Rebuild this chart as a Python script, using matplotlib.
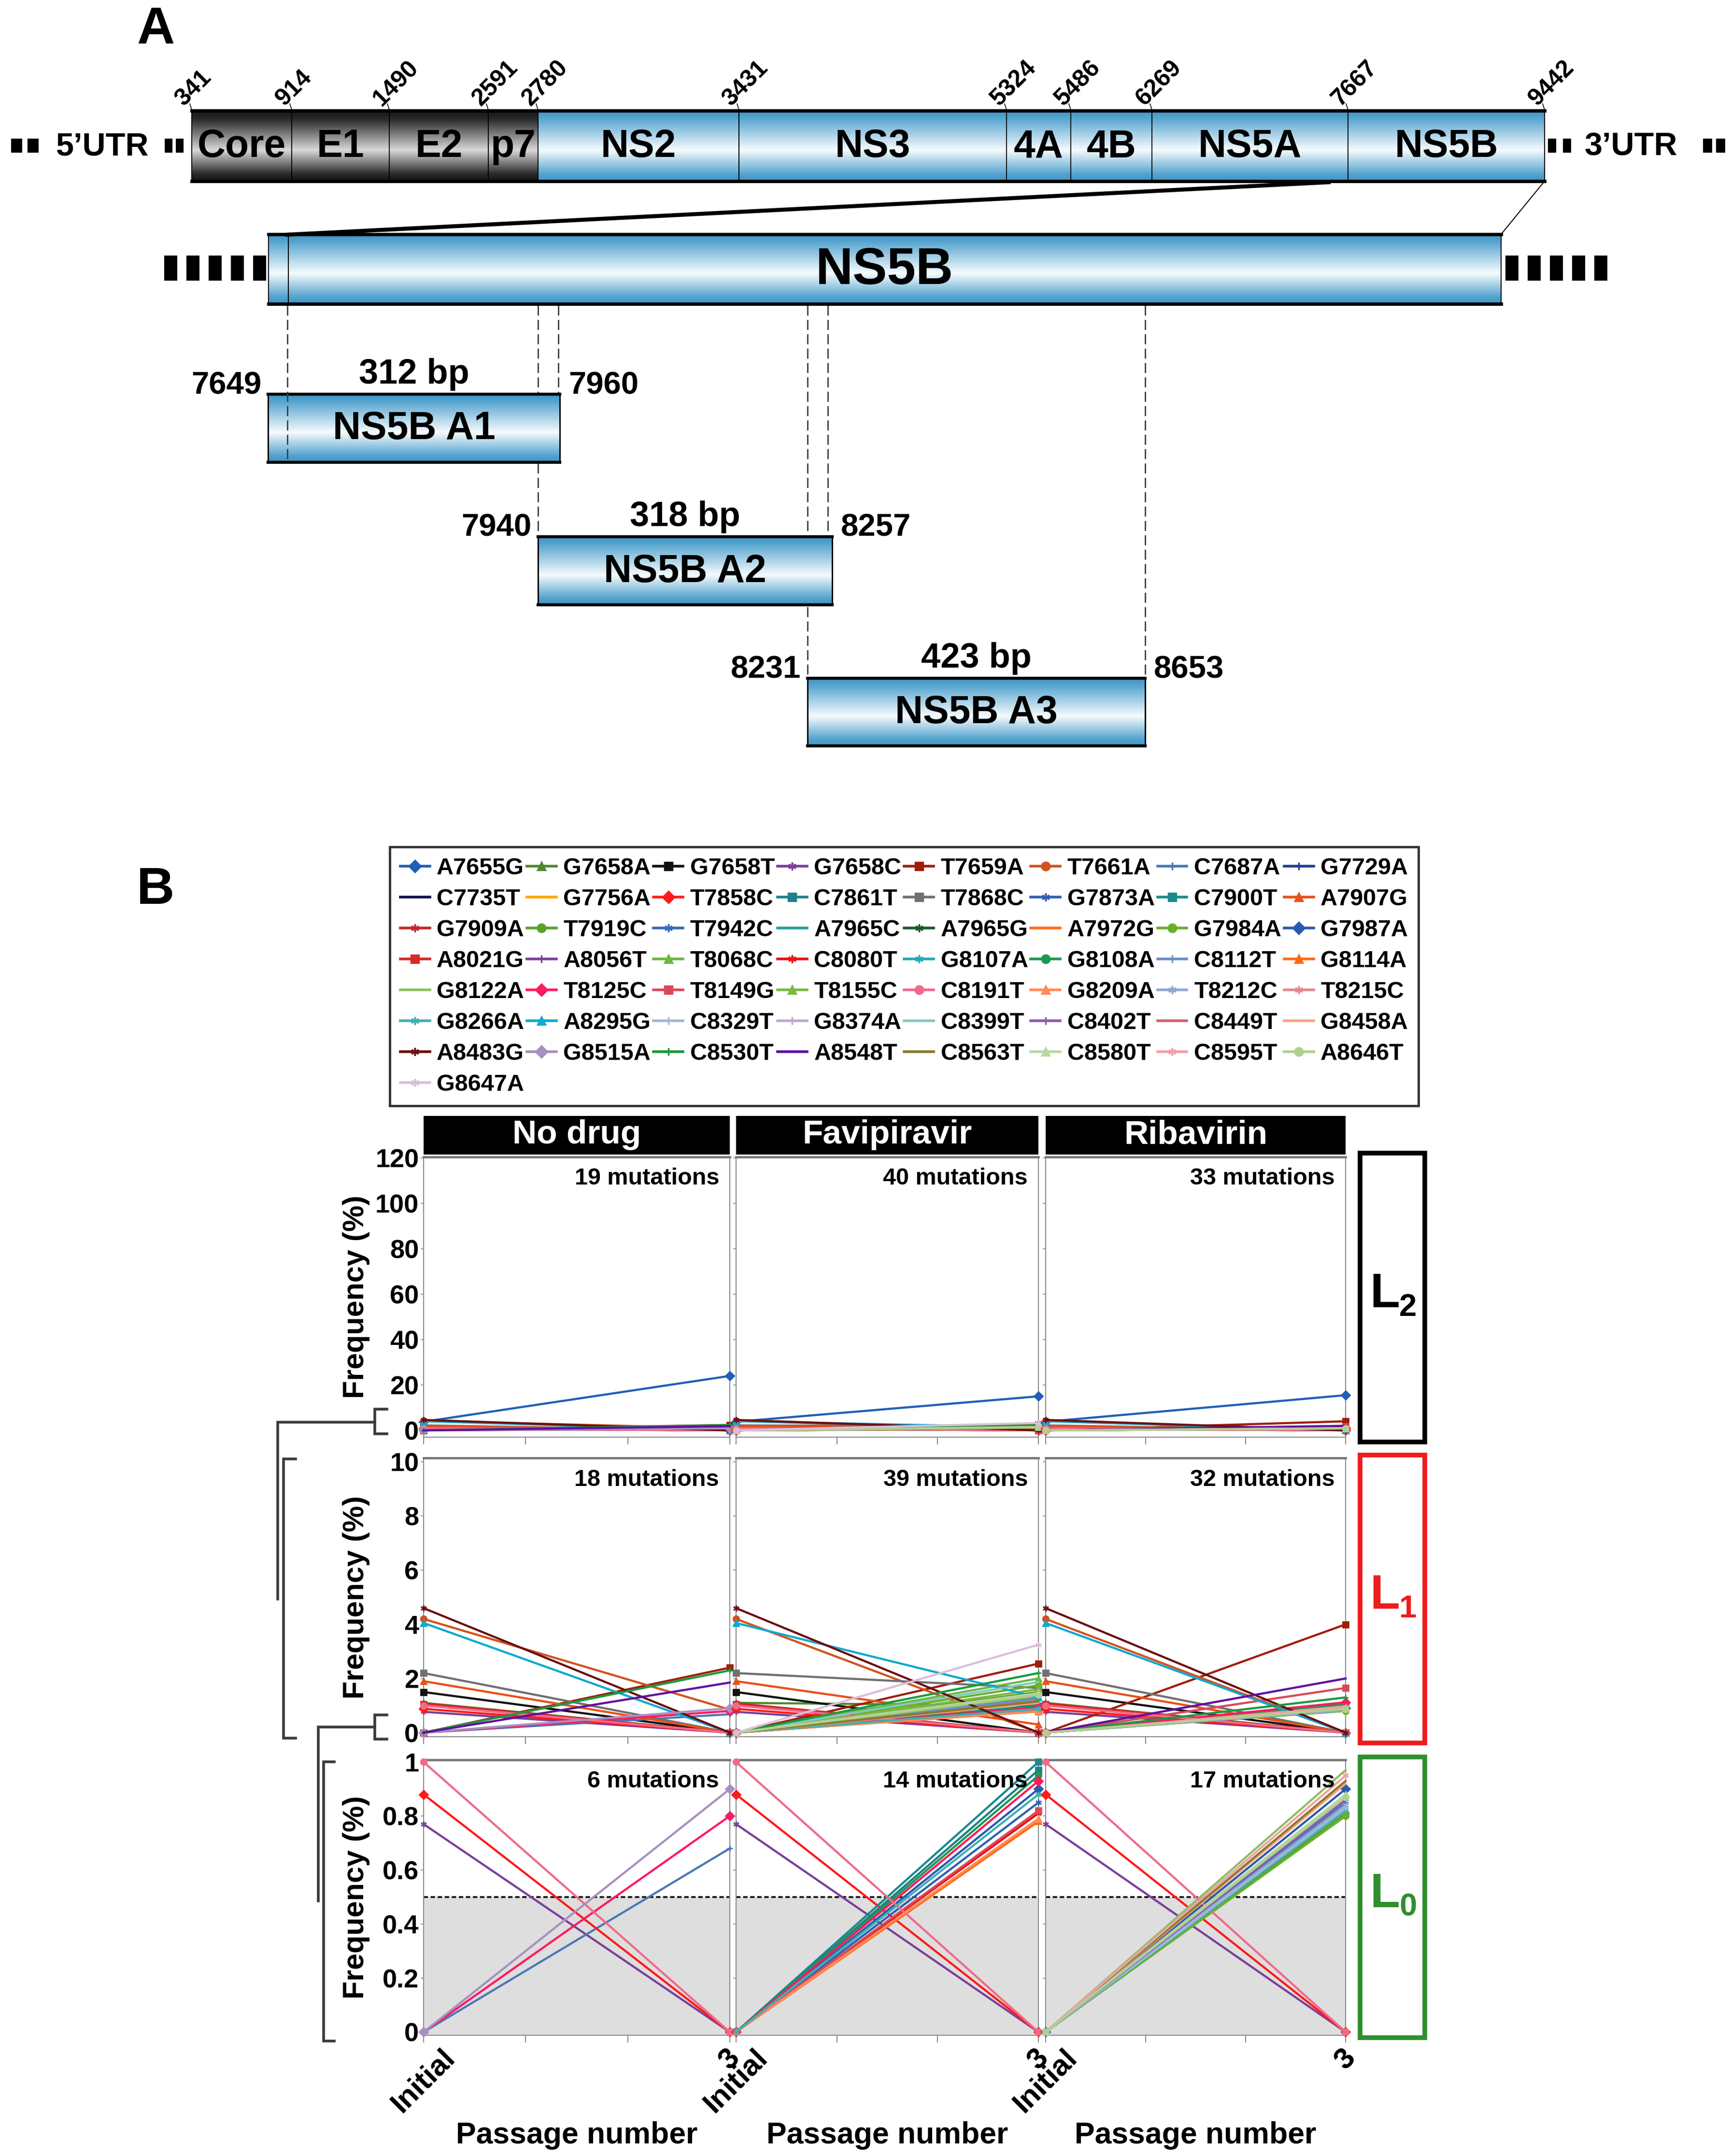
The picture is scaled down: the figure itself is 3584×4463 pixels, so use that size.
import numpy as np
import matplotlib
matplotlib.use('Agg')
import matplotlib.pyplot as plt
from matplotlib.patches import Rectangle
from matplotlib.lines import Line2D
from matplotlib.colors import LinearSegmentedColormap

# ---------------------------------------------------------------- data
# Panel A: genome schematic
region_names = ['Core', 'E1', 'E2', 'p7', 'NS2', 'NS3', '4A', '4B', 'NS5A', 'NS5B']
boundary_nt = [341, 914, 1490, 2591, 2780, 3431, 5324, 5486, 6269, 7667, 9442]
amplicon_names = ['NS5B A1', 'NS5B A2', 'NS5B A3']
amplicon_start = [7649, 7940, 8231]
amplicon_end = [7960, 8257, 8653]
amplicon_bp = ['312 bp', '318 bp', '423 bp']

# Panel B: mutations (legend order)
mutations = ['A7655G', 'G7658A', 'G7658T', 'G7658C', 'T7659A', 'T7661A', 'C7687A', 'G7729A',
             'C7735T', 'G7756A', 'T7858C', 'C7861T', 'T7868C', 'G7873A', 'C7900T', 'A7907G',
             'G7909A', 'T7919C', 'T7942C', 'A7965C', 'A7965G', 'A7972G', 'G7984A', 'G7987A',
             'A8021G', 'A8056T', 'T8068C', 'C8080T', 'G8107A', 'G8108A', 'C8112T', 'G8114A',
             'G8122A', 'T8125C', 'T8149G', 'T8155C', 'C8191T', 'G8209A', 'T8212C', 'T8215C',
             'G8266A', 'A8295G', 'C8329T', 'G8374A', 'C8399T', 'C8402T', 'C8449T', 'G8458A',
             'A8483G', 'G8515A', 'C8530T', 'A8548T', 'C8563T', 'C8580T', 'C8595T', 'A8646T',
             'G8647A']

treatments = ['No drug', 'Favipiravir', 'Ribavirin']
passage_labels = ['Initial', '', '', '3']

nodrug_names = ['A7655G', 'A8483G', 'T7661A', 'A8295G', 'T7868C', 'A7907G', 'G7658T', 'G7658A',
                'A8021G', 'G7909A', 'C8191T', 'T7858C', 'G7658C', 'T7659A', 'C8530T', 'A8548T',
                'G8515A', 'T8125C', 'C7687A']
nodrug_initial = [3.8, 4.6, 4.2, 4.05, 2.2, 1.9, 1.5, 1.1, 1.05, 1.08, 1.0, 0.88, 0.77,
                  0, 0, 0, 0, 0, 0]
nodrug_p3 = [24.0, 0, 0.85, 0, 0, 0, 0, 0, 0, 0, 0, 0, 0,
             2.4, 2.3, 1.85, 0.9, 0.8, 0.68]

favi_names = ['A7655G', 'A8483G', 'T7661A', 'A8295G', 'T7868C', 'A7907G', 'G7658T', 'G7658A',
              'A8021G', 'G7909A', 'C8191T', 'T7858C', 'G7658C',
              'T7659A', 'C8530T', 'G8647A', 'C8399T', 'T8155C', 'T8068C', 'G7984A', 'T7919C',
              'C8580T', 'A8646T', 'G8122A', 'C7687A', 'C8112T', 'A7972G', 'C8563T', 'G8458A',
              'C7900T', 'C7861T', 'G8108A', 'T8125C', 'G7987A', 'G8266A', 'G7873A', 'T8149G',
              'C8080T', 'G8209A', 'G8114A']
favi_initial = [3.8, 4.6, 4.2, 4.05, 2.2, 1.9, 1.5, 1.1, 1.05, 1.08, 1.0, 0.88, 0.77,
                0, 0, 0, 0, 0, 0, 0, 0, 0, 0, 0, 0, 0, 0, 0, 0,
                0, 0, 0, 0, 0, 0, 0, 0, 0, 0, 0]
favi_p3 = [15.0, 0, 0, 1.3, 1.65, 0.3, 0, 1.0, 0, 0, 0, 0, 0,
           2.55, 2.2, 3.25, 1.87, 1.6, 2.0, 1.75, 1.5, 1.45, 1.4, 1.35, 1.3, 1.25, 1.2, 1.15, 1.1,
           1.0, 0.97, 0.95, 0.93, 0.9, 0.88, 0.85, 0.82, 0.81, 0.79, 0.78]

riba_names = ['A7655G', 'A8483G', 'T7661A', 'A8295G', 'T7868C', 'A7907G', 'G7658T', 'G7658A',
              'A8021G', 'G7909A', 'C8191T', 'T7858C', 'G7658C',
              'T7659A', 'A8548T', 'T8149G', 'C8530T', 'T8125C', 'G8108A',
              'G8122A', 'C8595T', 'C8563T', 'G8458A', 'G7987A', 'C8580T', 'A8646T', 'C8402T',
              'C7687A', 'T8212C', 'C8329T', 'G8266A', 'T7919C', 'G7984A']
riba_initial = [3.8, 4.6, 4.2, 4.05, 2.2, 1.9, 1.5, 1.1, 1.05, 1.08, 1.0, 0.88, 0.77,
                0, 0, 0, 0, 0, 0,
                0, 0, 0, 0, 0, 0, 0, 0, 0, 0, 0, 0, 0, 0]
riba_p3 = [15.5, 0, 0, 0, 0, 0, 0, 0, 0, 0, 0, 0, 0,
           4.0, 2.0, 1.65, 1.3, 1.12, 1.05,
           0.97, 0.95, 0.93, 0.92, 0.9, 0.88, 0.87, 0.86, 0.85, 0.84, 0.83, 0.82, 0.81, 0.80]

level_names = ['2', '1', '0']
level_max = [np.inf, 10, 1]

# ---------------------------------------------------------------- styles
mut_colors = ['#1f5fb8', '#4e8a2a', '#111111', '#7a3f9a', '#a01e0a', '#d2521e', '#4a78b8', '#1f3f8f',
              '#10104a', '#ffa500', '#ff1a1a', '#1f7f8a', '#707070', '#3060b0', '#1a8a8a', '#e8501a',
              '#c0282a', '#5aa02c', '#3a6ab8', '#2a9a9a', '#1a5a2a', '#ff6a20', '#6ab02a', '#2a5ab0',
              '#d82828', '#8040a0', '#6ab840', '#ee1111', '#2aa8b0', '#1a9a50', '#6a90c8', '#ff6a10',
              '#8cc060', '#ff1a60', '#d84a5a', '#7ab840', '#f06a8a', '#ff8a5a', '#90a8d0', '#e08890',
              '#40b0b0', '#10a8d0', '#a0b8d8', '#c0a8d0', '#80c8c0', '#8a5ab0', '#d86070', '#ffa080',
              '#6a0f10', '#a890c0', '#1a9a40', '#6010a0', '#8a7a2a', '#b8d8a0', '#f0a0a8', '#b0d090',
              '#d8c0d8']
mut_marks = ['D', '^', 's', '*', 's', 'o', '+', '+',
             '', '', 'D', 's', 's', '*', 's', '^',
             '*', 'o', '*', '', '*', '', 'o', 'D',
             's', '+', '^', '*', '*', 'o', '+', '^',
             '', 'D', 's', '^', 'o', '^', '*', '*',
             '*', '^', '+', '+', '', '+', '', '',
             '*', 'D', '+', '', '', '^', '*', 'o',
             '*']
marker_map = {'D': 'D', '^': '^', 's': 's', 'o': 'o', '+': '+', '*': (6, 2, 0), '': None}

W, H = 3584, 4463
DPI = 100
plt.rcParams['font.family'] = ['Liberation Sans', 'DejaVu Sans']
plt.rcParams['font.weight'] = 'bold'
plt.rcParams['axes.labelweight'] = 'bold'

fig = plt.figure(figsize=(W / DPI, H / DPI), dpi=DPI)
ov = fig.add_axes([0, 0, 1, 1])
ov.axis('off')

grad = np.linspace(0, 1, 256).reshape(-1, 1)
blue_cmap = LinearSegmentedColormap.from_list(
    'b', [(0, '#3f93c3'), (0.1, '#55a4cf'), (0.56, '#f6fbfd'), (0.9, '#55a4cf'), (1, '#3f93c3')])
gray_cmap = LinearSegmentedColormap.from_list(
    'g', [(0, '#151515'), (0.12, '#2a2a2a'), (0.56, '#d8d8d8'), (0.9, '#2a2a2a'), (1, '#151515')])


def grad_rect(x0, x1, y0, y1, cmap):
    ov.imshow(grad, cmap=cmap, extent=(x0, x1, y1, y0), aspect='auto',
              interpolation='bilinear', zorder=2)


def border(x0, x1, y0, y1, lw_tb=5.0, lw_side=1.5):
    ov.plot([x0, x1], [y0, y0], color='black', lw=lw_tb, solid_capstyle='projecting', zorder=4)
    ov.plot([x0, x1], [y1, y1], color='black', lw=lw_tb, solid_capstyle='projecting', zorder=4)
    ov.plot([x0, x0], [y0, y1], color='black', lw=lw_side, zorder=4)
    ov.plot([x1, x1], [y0, y1], color='black', lw=lw_side, zorder=4)


# ---------------------------------------------------------------- Panel A
ov.text(322, 62, 'A', fontsize=78, fontweight='bold', ha='center', va='center')
ov.text(322, 1843, 'B', fontsize=78, fontweight='bold', ha='center', va='center')

# schematic layout (pixel positions of the drawn boundaries)
bx = [397, 604, 806, 1011, 1114, 1530, 2084, 2217, 2385, 2791, 3198]
top_y0, top_y1 = 229, 375
grad_rect(bx[0], bx[4], top_y0, top_y1, gray_cmap)
grad_rect(bx[4], bx[-1], top_y0, top_y1, blue_cmap)
border(bx[0], bx[-1], top_y0, top_y1)
for x in bx[1:-1]:
    ov.plot([x, x], [top_y0, top_y1], color='black', lw=1.5, zorder=4)
for i, name in enumerate(region_names):
    ov.text((bx[i] + bx[i + 1]) / 2, (top_y0 + top_y1) / 2 + 2, name, fontsize=58,
            fontweight='bold', ha='center', va='center', zorder=5)
for x, nt in zip(bx, boundary_nt):
    ov.plot([x, x - 4], [top_y0 - 2, top_y0 - 14], color='black', lw=1.2, zorder=4)
    ov.text(x - 16, top_y0 - 8, str(nt), fontsize=36, fontweight='bold', rotation=45,
            rotation_mode='anchor', ha='left', va='baseline', zorder=5)

# UTR text and dashes
utr_y = (top_y0 + top_y1) / 2
ov.text(212, utr_y + 2, '5\u2019UTR', fontsize=48, fontweight='bold', ha='center', va='center')
ov.text(3377, utr_y + 2, '3\u2019UTR', fontsize=48, fontweight='bold', ha='center', va='center')
small_dash = [(23, 23), (57, 23), (341, 16), (364, 16), (3205, 17), (3236, 17), (3526, 19), (3553, 19)]
ov.broken_barh(small_dash, (287, 29), facecolors='black', zorder=3)

# expanded NS5B bar
n5_x0, n5_x1, n5_y0, n5_y1 = 556, 3108, 485, 629
grad_rect(n5_x0, n5_x1, n5_y0, n5_y1, blue_cmap)
border(n5_x0, n5_x1, n5_y0, n5_y1)
ov.plot([597, 597], [n5_y0, n5_y1], color='black', lw=1.5, zorder=4)
ov.text((n5_x0 + n5_x1) / 2, (n5_y0 + n5_y1) / 2 + 3, 'NS5B', fontsize=77, fontweight='bold',
        ha='center', va='center', zorder=5)
big_dash_l = [(340 + 46 * k, 27) for k in range(5)]
big_dash_r = [(3117 + 46 * k, 27) for k in range(5)]
ov.broken_barh(big_dash_l + big_dash_r, (529, 52), facecolors='black', zorder=3)

# zoom connectors
ov.plot([2755, 590], [377, 486], color='black', lw=6, solid_capstyle='butt', zorder=3)
ov.plot([bx[-1], n5_x1], [top_y1, n5_y0], color='black', lw=1.5, zorder=3)

# amplicons
amp_x = [(555, 1159), (1114, 1723), (1672, 2371)]
amp_y = [(816, 957), (1111, 1252), (1404, 1544)]
dash_x = [595, 1114, 1156, 1672, 1714, 2371]
dash_end = [957, 1111, 816, 1404, 1111, 1404]
for x, ye in zip(dash_x, dash_end):
    ov.plot([x, x], [n5_y1 + 3, ye], color='#3a3a3a', lw=2, dashes=(7.5, 3.2),
            zorder=6 if x == 595 else 1)
for i in range(3):
    (x0, x1), (y0, y1) = amp_x[i], amp_y[i]
    grad_rect(x0, x1, y0, y1, blue_cmap)
    border(x0, x1, y0, y1, lw_tb=4.5, lw_side=2.2)
    ov.text((x0 + x1) / 2, (y0 + y1) / 2 + 2, amplicon_names[i], fontsize=58,
            fontweight='bold', ha='center', va='center', zorder=5)
    ov.text((x0 + x1) / 2, y0 - 22, amplicon_bp[i], fontsize=52, fontweight='bold',
            ha='center', va='baseline', zorder=5)
    ov.text(x0 - 14, y0 - 1, str(amplicon_start[i]), fontsize=47, fontweight='bold',
            ha='right', va='baseline', zorder=5)
    ov.text(x1 + 18, y0 - 1, str(amplicon_end[i]), fontsize=47, fontweight='bold',
            ha='left', va='baseline', zorder=5)

# ---------------------------------------------------------------- Panel B
col_x = [(877, 1511), (1524, 2150), (2165, 2786)]
row_y = [(2395, 2975), (3018, 3595), (3643, 4213)]
ylims = [(-3, 120.5), (-0.15, 10.15), (-0.012, 1.008)]
yticks = [np.arange(0, 121, 20), np.arange(0, 11, 2), np.round(np.arange(0, 1.01, 0.2), 1)]
yticklabels = [[str(v) for v in yticks[0]], [str(v) for v in yticks[1]],
               ['0', '0.2', '0.4', '0.6', '0.8', '1']]
spine_c = '#8a8a8a'

drug_data = [(nodrug_names, nodrug_initial, nodrug_p3),
             (favi_names, favi_initial, favi_p3),
             (riba_names, riba_initial, riba_p3)]

for c, (x0, x1) in enumerate(col_x):
    # header
    ov.add_patch(Rectangle((x0, 2310), x1 - x0, 80, facecolor='black', edgecolor='none', zorder=3))
    ov.text((x0 + x1) / 2, 2349, treatments[c], color='white', fontsize=50, fontweight='bold',
            ha='center', va='center', zorder=4)
    names, ini, p3 = drug_data[c]
    order = sorted(range(len(names)), key=lambda k: mutations.index(names[k]))
    for r, (y0, y1) in enumerate(row_y):
        ax = fig.add_axes([x0 / W, 1 - y1 / H, (x1 - x0) / W, (y1 - y0) / H])
        ax.set_xlim(0, 3)
        ax.set_ylim(*ylims[r])
        if r == 2:
            ax.axhspan(ylims[r][0], 0.5, color='#dedede', zorder=0, lw=0)
            ax.axhline(0.5, color='#222222', lw=3, dashes=(2.2, 1.3), zorder=1)
        n_shown = 0
        for k in order:
            if max(ini[k], p3[k]) > level_max[r]:
                continue
            n_shown += 1
            mi = mutations.index(names[k])
            ax.plot([0, 3], [ini[k], p3[k]], color=mut_colors[mi], lw=3.2,
                    marker=marker_map[mut_marks[mi]], ms=9, mew=2, clip_on=False, zorder=3)
        ax.text(1 - 22 / (x1 - x0), 1 - 45 / (y1 - y0), f'{n_shown} mutations',
                transform=ax.transAxes, fontsize=35, fontweight='bold', ha='right', va='center',
                zorder=5)
        for s in ['left', 'right', 'bottom']:
            ax.spines[s].set_color(spine_c)
            ax.spines[s].set_linewidth(1.5)
        ax.spines['top'].set_color('#7a7a7a')
        ax.spines['top'].set_linewidth(3.5)
        ax.set_yticks(yticks[r])
        ax.set_xticks([0, 1, 2, 3])
        ax.tick_params(axis='y', length=4, width=1.2, color=spine_c, pad=3, labelsize=39)
        ax.tick_params(axis='x', length=11, width=1.5, color=spine_c, pad=2, labelsize=44)
        if c == 0:
            ax.set_yticklabels(yticklabels[r], fontweight='bold')
        else:
            ax.set_yticklabels([])
        if r == 2:
            ax.set_xticklabels(passage_labels, rotation=45, ha='center', va='top',
                               fontweight='bold')
        else:
            ax.set_xticklabels([])
    ov.text((x0 + x1) / 2, 4420, 'Passage number', fontsize=45, fontweight='bold',
            ha='center', va='center')

for r, (y0, y1) in enumerate(row_y):
    ov.text(738, (y0 + y1) / 2, 'Frequency (%)', fontsize=44, fontweight='bold', rotation=90,
            ha='center', va='center')

# level boxes
lbox_y = [(2387, 2985), (3012, 3608), (3637, 4218)]
lbox_c = ['black', '#ee1c1c', '#2f8f2f']
for (y0, y1), col, lv in zip(lbox_y, lbox_c, level_names):
    ov.add_patch(Rectangle((2816, y0), 134, y1 - y0, facecolor='white', edgecolor=col, lw=7,
                           zorder=3))
    cy = (y0 + y1) / 2
    ov.text(2836, cy + 20, 'L', color=col, fontsize=73, fontweight='bold', ha='left',
            va='baseline', zorder=4)
    ov.text(2897, cy + 38, lv, color=col, fontsize=47, fontweight='bold', ha='left',
            va='baseline', zorder=4)

# dendrogram-like brackets
bc, blw = '#3a3a3a', 4
def bracket(x, ya, yb, tick):
    ov.plot([x + tick, x, x, x + tick], [ya, ya, yb, yb], color=bc, lw=blw,
            solid_joinstyle='miter', zorder=3)

bracket(776, 2917, 2968, 25)
ov.plot([776, 575, 575], [2944, 2944, 3310], color=bc, lw=blw, solid_joinstyle='miter', zorder=3)
bracket(587, 3020, 3598, 25)
bracket(776, 3550, 3600, 25)
ov.plot([776, 659, 659], [3575, 3575, 3935], color=bc, lw=blw, solid_joinstyle='miter', zorder=3)
bracket(670, 3647, 4225, 22)

# legend (row-major in the figure -> reorder for column-major filling)
handles = []
for name, col, mk in zip(mutations, mut_colors, mut_marks):
    handles.append(Line2D([], [], color=col, lw=4, marker=marker_map[mk], ms=12, mew=2.5))
ncol = 8
nrow = int(np.ceil(len(mutations) / ncol))
h_ord, l_ord = [], []
for cc in range(ncol):
    for rr in range(nrow):
        idx = rr * ncol + cc
        if idx < len(mutations):
            h_ord.append(handles[idx])
            l_ord.append(mutations[idx])
        else:
            h_ord.append(Line2D([], [], lw=0, marker=None))
            l_ord.append('')
leg = fig.legend(h_ord, l_ord, ncol=ncol, loc='upper left',
                 bbox_to_anchor=(807 / W, 1 - 1753 / H), bbox_transform=fig.transFigure,
                 borderaxespad=0, frameon=True, fancybox=False, edgecolor='black',
                 prop={'size': 35, 'weight': 'bold'}, handlelength=1.25, handletextpad=0.3,
                 columnspacing=0.12, labelspacing=0.39, borderpad=0.45)
leg.get_frame().set_linewidth(3.5)

ov.set_xlim(0, W)
ov.set_ylim(H, 0)

fig.savefig('out.png', dpi=DPI)
